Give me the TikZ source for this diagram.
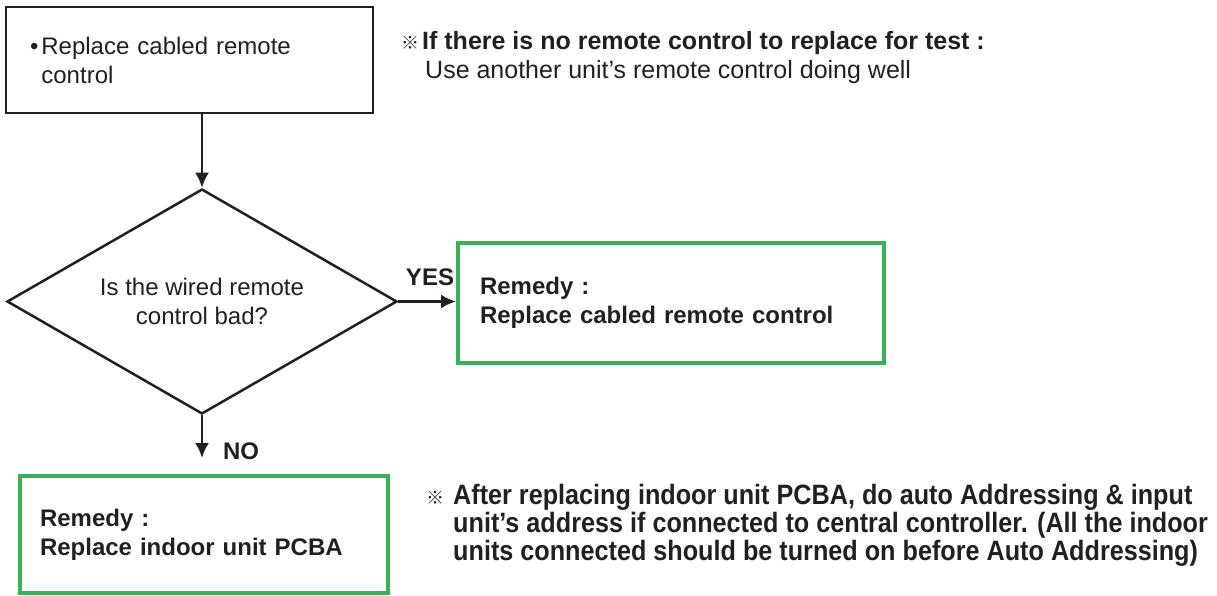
\documentclass[tikz,border=0pt]{standalone}
\usepackage{fontspec}
\setmainfont{Liberation Sans}
\newfontfamily\cjk{Noto Sans CJK SC}
\newfontfamily\narrowfont[FakeStretch=0.9]{Liberation Sans}
\usetikzlibrary{shapes.geometric,arrows.meta}
\definecolor{inkblack}{RGB}{35,31,32}
\definecolor{remedygreen}{RGB}{59,174,88}

\begin{document}
\begin{tikzpicture}[
        x=1pt, y=-1pt,
        % Bước kiểm tra
        stepbox/.style={
            rectangle, draw=inkblack, line width=2.5pt,
            text width=319pt, inner xsep=24pt, align=left,
            minimum height=106pt, text=inkblack,
            font=\fontsize{24}{29}\selectfont
        },
        % Câu hỏi
        decision/.style={
            diamond, aspect=1.73, draw=inkblack, line width=2.5pt,
            inner sep=0pt, minimum width=390pt, minimum height=225pt,
            align=center, text=inkblack,
            font=\fontsize{24}{29}\selectfont
        },
        % Biện pháp khắc phục
        remedy/.style={
            rectangle, draw=remedygreen, line width=4pt,
            align=left, text=inkblack,
            font=\fontsize{24}{29}\selectfont\bfseries
        },
        % Nhãn nhánh
        branch/.style={text=inkblack, inner sep=0pt, font=\fontsize{24}{29}\selectfont\bfseries},
        % Ghi chú
        note/.style={anchor=west, inner sep=0pt, align=left, text=inkblack},
        % Mũi tên
        arr/.style={-{Latex[length=15pt,width=14pt]}, line width=2.5pt, draw=inkblack}
    ]
        \useasboundingbox (0,0) rectangle (1217,596);

        % Bước đầu
        \node [stepbox, minimum width=367pt] (replace) at (189.5,60)
            {\textbullet\hspace{3pt}Replace cabled remote\\\phantom{\textbullet}\hspace{3pt}control};

        % Câu hỏi
        \node [decision] (wired) at (202,301.5) {Is the wired remote\\control bad?};

        % Biện pháp
        \node [remedy, text width=382pt, inner xsep=22pt, minimum height=120pt] (remedyA) at (671,303)
            {Remedy :\\Replace cabled remote control};
        \node [remedy, text width=328pt, inner xsep=20pt, minimum height=117pt] (remedyB) at (204,534.5)
            {Remedy :\\Replace indoor unit PCBA};

        % Nhãn
        \node [branch] (yes) at (430,277) {YES};
        \node [branch] (no) at (241,451) {NO};

        % Ghi chú
        \node [note, font=\fontsize{25}{29}\selectfont] (topnote) at (422,57.5)
            {\llap{{\cjk\fontsize{18}{18}\selectfont ※}\hspace{3pt}}\textbf{If there is no remote control to replace for test :}\\
             \hspace{3pt}Use another unit’s remote control doing well};
        \node [note, font=\fontsize{28}{28}\selectfont\narrowfont\bfseries] (bottomnote) at (453,525)
            {\llap{{\cjk\fontsize{18}{18}\selectfont ※}\hspace{9pt}}After replacing indoor unit PCBA, do auto Addressing \& input\\
             unit’s address if connected to central controller. (All the indoor\\
             units connected should be turned on before Auto Addressing)};

        % Mũi tên nối
        \draw [arr] (wired.north |- replace.south) -- (wired.north);
        \draw [arr] (wired.east) -- (wired.east -| remedyA.west);
        \draw [arr, shorten >=16pt] (wired.south) -- (wired.south |- remedyB.north);

    \end{tikzpicture}
\end{document}
